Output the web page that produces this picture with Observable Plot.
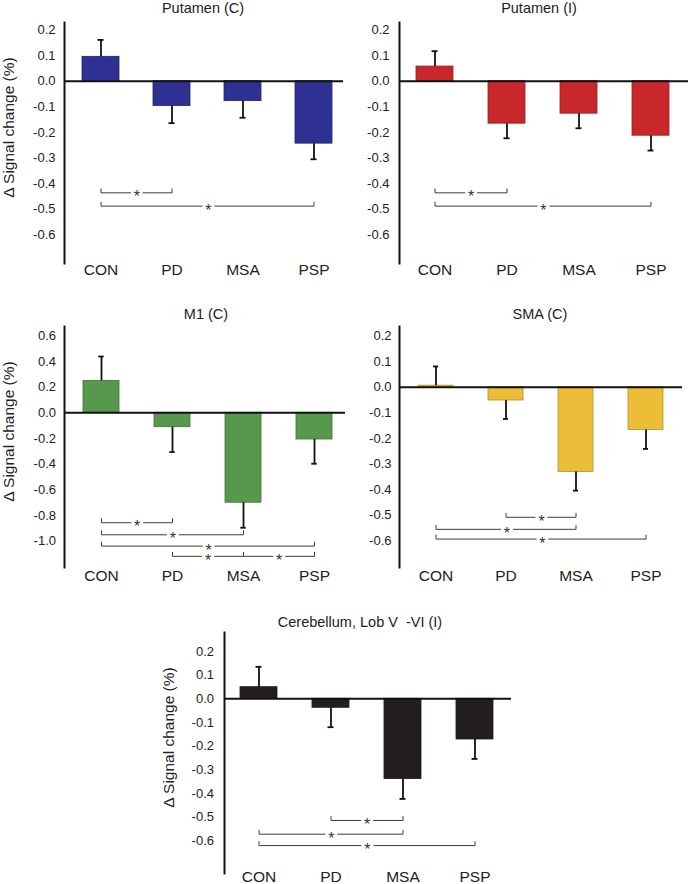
<!DOCTYPE html>
<html><head><meta charset="utf-8">
<script src="https://cdn.jsdelivr.net/npm/d3@7"></script>
<script src="https://cdn.jsdelivr.net/npm/@observablehq/plot@0.6"></script>
<style>
body{margin:0;background:#fff;}
#chart{position:relative;width:689px;height:884px;overflow:hidden;background:#fff;}
#chart svg{position:absolute;}
</style></head><body><div id="chart"></div>
<script>
// ---- data ----
const groups = ["CON", "PD", "MSA", "PSP"];
const yLabel = "Δ Signal change (%)";

const putamenCTitle = "Putamen (C)";
const putamenCMean = [0.095, -0.097, -0.078, -0.244];
const putamenCErr  = [0.066, 0.067, 0.065, 0.061];
const putamenCSig  = [["CON", "PD", -0.436], ["CON", "PSP", -0.488]];

const putamenITitle = "Putamen (I)";
const putamenIMean = [0.057, -0.166, -0.127, -0.213];
const putamenIErr  = [0.060, 0.057, 0.057, 0.058];
const putamenISig  = [["CON", "PD", -0.436], ["CON", "PSP", -0.488]];

const m1Title = "M1 (C)";
const m1Mean = [0.249, -0.112, -0.701, -0.208];
const m1Err  = [0.190, 0.194, 0.195, 0.189];
const m1Sig  = [["CON", "PD", -0.857], ["CON", "MSA", -0.951], ["CON", "PSP", -1.039],
                ["PD", "MSA", -1.119], ["MSA", "PSP", -1.119]];

const smaTitle = "SMA (C)";
const smaMean = [0.006, -0.052, -0.331, -0.167];
const smaErr  = [0.075, 0.072, 0.073, 0.074];
const smaSig  = [["PD", "MSA", -0.508], ["CON", "MSA", -0.555], ["CON", "PSP", -0.593]];

const cerebTitle = "Cerebellum, Lob V\u00a0 -VI (I)";
const cerebMean = [0.049, -0.038, -0.339, -0.172];
const cerebErr  = [0.086, 0.082, 0.084, 0.082];
const cerebSig  = [["PD", "MSA", -0.514], ["CON", "MSA", -0.572], ["CON", "PSP", -0.620]];

const ticksSmall = [0.2, 0.1, 0.0, -0.1, -0.2, -0.3, -0.4, -0.5, -0.6];
const ticksM1    = [0.6, 0.4, 0.2, 0.0, -0.2, -0.4, -0.6, -0.8, -1.0];

// ---- drawing ----
const FONT = "'Liberation Sans', Arial, Helvetica, sans-serif";

function panel(cfg) {
  const {title, mean, err, color, sig, ticks, yDomain, left, top, width, height,
         mt, mb, ml, mr, padIn, padOut, align, tickPad, xPad, titleDx, titleDy, showYLabel} = cfg;
  const data = groups.map((g, i) => ({g, v: mean[i], end: mean[i] + Math.sign(mean[i]) * err[i]}));
  const frameW = width - ml - mr, frameH = height - mt - mb;
  const step = frameW / (groups.length - padIn + 2 * padOut);
  const bw = step * (1 - padIn);
  const hook = 4 * (yDomain[1] - yDomain[0]) / frameH;
  const pts = sig.flatMap(([a, b, lvl], k) => [
    {k, g: a, y: lvl + hook}, {k, g: a, y: lvl}, {k, g: b, y: lvl}, {k, g: b, y: lvl + hook}]);
  const stars = sig.flatMap(([a, b, lvl]) => {
    const dx = (groups.indexOf(b) - groups.indexOf(a)) * step / 2;
    const d = [{g: a, y: lvl}];
    return [
      Plot.dot(d, {x: "g", y: "y", dx, r: 6, fill: "white", stroke: null}),
      Plot.text(d, {x: "g", y: "y", dx, dy: 4.5, text: () => "*", fontSize: 16, fill: "#333"})
    ];
  });
  const marks = [
    Plot.barY(data, {x: "g", y: "v", fill: color, stroke: d3.color(color).darker(0.8).formatHex(), strokeWidth: 0.8}),
    Plot.ruleY([0], {stroke: "#111", strokeWidth: 2}),
    Plot.ruleX(data, {x: "g", y1: "v", y2: "end", stroke: "#111", strokeWidth: 1.8}),
    Plot.tickY(data, {x: "g", y: "end", stroke: "#111", strokeWidth: 1.8, insetLeft: (bw - 6) / 2, insetRight: (bw - 6) / 2}),
    Plot.line(pts, {x: "g", y: "y", z: "k", stroke: "#3c3c3c", strokeWidth: 1}),
    ...stars,
    Plot.frame({anchor: "left", stroke: "#111", strokeWidth: 2}),
    // y tick labels, placed through the y scale
    Plot.text(ticks, {y: d => d, frameAnchor: "left", dx: -tickPad, textAnchor: "end", text: d => d.toFixed(1),
      fontSize: 13, fill: "#222"}),
    Plot.axisX({tickSize: 0, tickPadding: xPad, fontSize: 15.5, label: null, fill: "#222"}),
    Plot.text([title], {frameAnchor: "top", dx: titleDx, dy: titleDy, text: d => d, fontSize: 14.5, lineAnchor: "middle", fill: "#222"})
  ];
  if (showYLabel) {
    marks.push(Plot.text([yLabel], {frameAnchor: "left", rotate: -90, dx: -55, dy: -15.5, text: d => d,
      fontSize: 15.5, lineAnchor: "middle", textAnchor: "middle", fill: "#222"}));
  }
  const svg = Plot.plot({
    width, height, marginTop: mt, marginBottom: mb, marginLeft: ml, marginRight: mr,
    style: {fontFamily: FONT, background: "transparent", overflow: "visible"},
    x: {domain: groups, paddingInner: padIn, paddingOuter: padOut, align, label: null},
    y: {domain: yDomain, label: null, axis: null},
    marks
  });
  svg.style.left = left + "px";
  svg.style.top = top + "px";
  document.getElementById("chart").appendChild(svg);
}

panel({title: putamenCTitle, mean: putamenCMean, err: putamenCErr, sig: putamenCSig, color: "#2e3192",
  ticks: ticksSmall, yDomain: [-0.712, 0.229], left: 0, top: 0, width: 345, height: 290,
  mt: 22, mb: 27, ml: 64, mr: 2, padIn: 0.484, padOut: 0.19, align: 0.63, tickPad: 9, xPad: 0,
  titleDx: -1, titleDy: -14.3, showYLabel: true});

panel({title: putamenITitle, mean: putamenIMean, err: putamenIErr, sig: putamenISig, color: "#c8282c",
  ticks: ticksSmall, yDomain: [-0.712, 0.229], left: 345, top: 0, width: 344, height: 290,
  mt: 22, mb: 27, ml: 54, mr: 1, padIn: 0.488, padOut: 0.2425, align: 0.484, tickPad: 10, xPad: 0,
  titleDx: -5, titleDy: -14.3, showYLabel: false});

panel({title: m1Title, mean: m1Mean, err: m1Err, sig: m1Sig, color: "#57994c",
  ticks: ticksM1, yDomain: [-1.206, 0.673], left: 0, top: 290, width: 345, height: 300,
  mt: 36, mb: 23, ml: 64, mr: 0, padIn: 0.488, padOut: 0.212, align: 0.6, tickPad: 8.5, xPad: 2,
  titleDx: 1, titleDy: -12.5, showYLabel: true});

panel({title: smaTitle, mean: smaMean, err: smaErr, sig: smaSig, color: "#ecbd36",
  ticks: ticksSmall, yDomain: [-0.704, 0.237], left: 345, top: 290, width: 344, height: 300,
  mt: 36, mb: 23, ml: 54, mr: 7, padIn: 0.493, padOut: 0.24, align: 0.5, tickPad: 8, xPad: 2,
  titleDx: -1, titleDy: -12.5, showYLabel: false});

panel({title: cerebTitle, mean: cerebMean, err: cerebErr, sig: cerebSig, color: "#231f20",
  ticks: ticksSmall, yDomain: [-0.738, 0.28], left: 170, top: 590, width: 360, height: 294,
  mt: 42, mb: 11, ml: 54, mr: 19, padIn: 0.488, padOut: 0.229, align: 0.483, tickPad: 10.5, xPad: -3,
  titleDx: -8, titleDy: -10, showYLabel: true});
</script>
</body></html>
